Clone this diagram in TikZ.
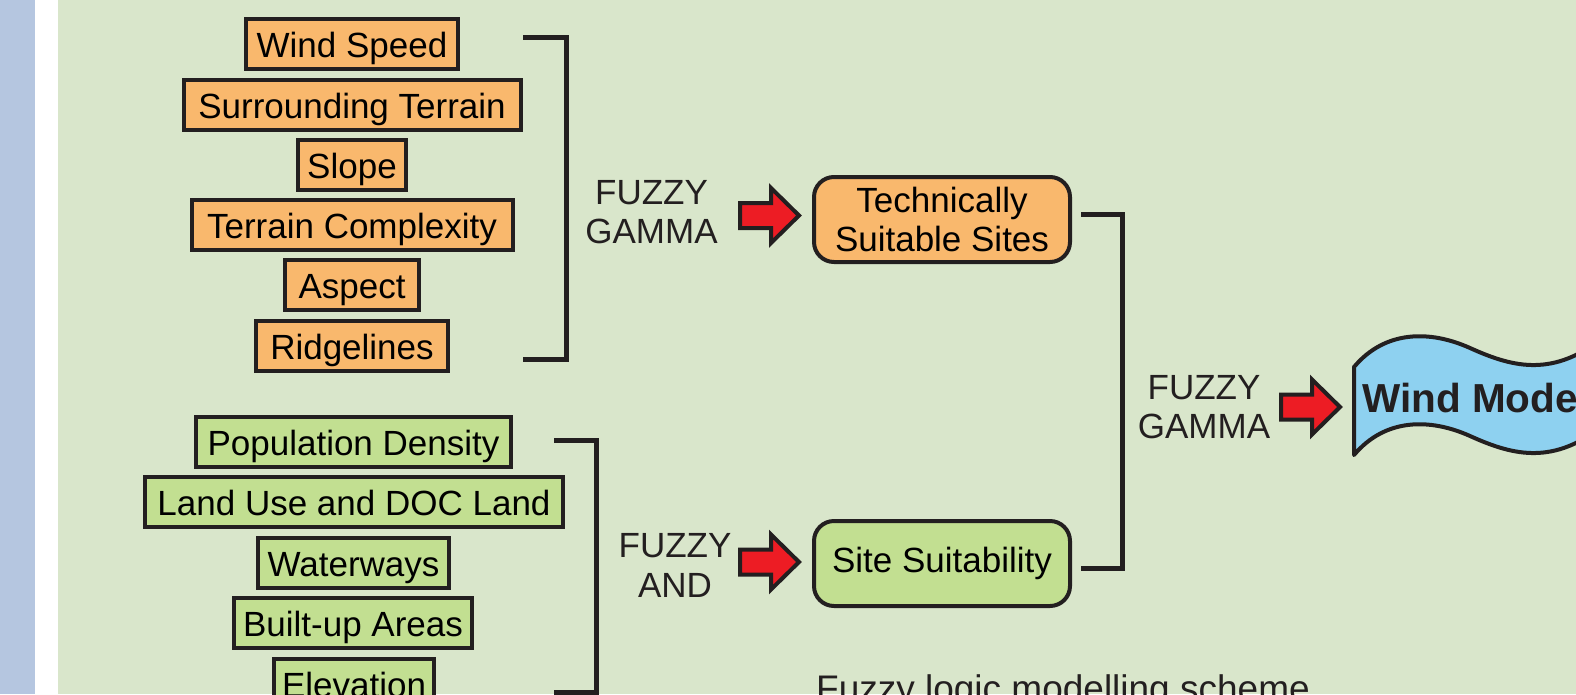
\documentclass[tikz,border=0pt]{standalone}
\usepackage{fontspec}
\setmainfont{Liberation Sans}
\definecolor{stripblue}{HTML}{B5C6E0}
\definecolor{panel}{HTML}{D9E6CB}
\definecolor{techfill}{HTML}{F9B86D}
\definecolor{sitefill}{HTML}{C2DF91}
\definecolor{alert}{HTML}{ED1C24}
\definecolor{sky}{HTML}{8ED1F0}
\definecolor{ink}{HTML}{231F20}
\tikzset{
  txt/.style={font=\fontsize{35}{39.5}\selectfont},
  factor/.style={txt, draw=ink, line width=4pt, inner xsep=0pt, inner ysep=0pt,
    minimum height=50pt, text height=27pt, text depth=0pt},
  techfactor/.style={factor, fill=techfill},
  sitefactor/.style={factor, fill=sitefill},
  result/.style={txt, draw=ink, line width=4pt, rounded corners=20pt,
    minimum width=256pt, minimum height=85pt, align=center, inner sep=0pt},
  op/.style={txt, align=center, inner sep=0pt, text=ink},
  bracket/.style={draw=ink, line width=5pt, line join=miter},
  blockarrow/.pic={
    \draw[fill=alert, draw=ink, line width=4pt, line join=miter]
      (-59,-12.5) -- (-28,-12.5) -- (-28,-27.5) -- (0,0) -- (-28,27.5)
      -- (-28,12.5) -- (-59,12.5) -- cycle;}
}
\begin{document}
\begin{tikzpicture}[x=1pt,y=-1pt]
\useasboundingbox (0,0) rectangle (1576,694);
% page background
\fill[stripblue] (0,0) rectangle (35,694);
\fill[white] (35,0) rectangle (58,694);
\fill[panel] (58,0) rectangle (1576,694);
\clip (0,0) rectangle (1576,694);

% technical factors
\node[techfactor, minimum width=212pt] (ws)  at (352,44.2)  {Wind Speed};
\node[techfactor, minimum width=337pt] (st)  at (352,104.5) {Surrounding Terrain};
\node[techfactor, minimum width=108pt] (sl)  at (352,164.8) {Slope};
\node[techfactor, minimum width=321pt] (tc)  at (352,225.1) {Terrain Complexity};
\node[techfactor, minimum width=134pt] (asp) at (352,285.4) {Aspect};
\node[techfactor, minimum width=192pt] (rl)  at (352,345.7) {Ridgelines};

% site factors
\node[sitefactor, minimum width=315pt] (pd) at (353.5,441.5) {Population Density};
\node[sitefactor, minimum width=418pt] (lu) at (354,502)     {Land Use and DOC Land};
\node[sitefactor, minimum width=191pt] (ww) at (353.5,562.5) {Waterways};
\node[sitefactor, minimum width=238pt] (bu) at (353,623)     {Built-up Areas};
\node[sitefactor, minimum width=160pt] (el) at (354,683.5)   {Elevation};

% bracket coordinates
\coordinate (t1) at (523,37.5);  \coordinate (t2) at (566,37.5);
\coordinate (t3) at (566,359.5); \coordinate (t4) at (523,359.5);
\coordinate (s1) at (554,440);   \coordinate (s2) at (596.5,440);
\coordinate (s3) at (596.5,692); \coordinate (s4) at (554,692);

\draw[bracket] (t1) -- (t2) -- (t3) -- (t4);
\draw[bracket] (s1) -- (s2) -- (s3) -- (s4);

% operators
\node[op] (opgamma) at (651.5,212.2) {FUZZY\\GAMMA};
\node[op] (opand)   at (675,565.5)   {FUZZY\\AND};

% intermediate results
\node[result, fill=techfill] (tech) at (942,219.5) {Technically\\Suitable Sites};
\node[result, fill=sitefill] (site) at (942,563.5) {Site Suitability};

\pic at ([xshift=-13pt,yshift=4pt]tech.west) {blockarrow};
\pic at ([xshift=-13pt,yshift=1.5pt]site.west) {blockarrow};

% second bracket
\coordinate (r1) at (1081,214); \coordinate (r2) at (1122.5,214);
\coordinate (r3) at (1122.5,568); \coordinate (r4) at (1081,568);
\draw[bracket] (r1) -- (r2) -- (r3) -- (r4);

\node[op] (opgamma2) at (1204,407.2) {FUZZY\\GAMMA};

% wind model banner
\draw[fill=sky, draw=ink, line width=4pt, line join=round]
  (1354,367) .. controls (1385,330) and (1430,330) .. (1470,348)
  .. controls (1510,366) and (1550,378) .. (1600,340)
  -- (1600,428)
  .. controls (1550,466) and (1510,454) .. (1470,436)
  .. controls (1430,418) and (1385,418) .. (1354,455) -- cycle;
\coordinate (model) at (1354,407);
\node[anchor=base west, inner sep=0pt, text=ink,
  font=\fontsize{40.5}{44}\selectfont\bfseries] (modeltext) at (1362,412) {Wind Model};
\pic at ([xshift=-14pt]model) {blockarrow};

% caption
\node[anchor=base west, inner sep=0pt, text=ink, font=\fontsize{37}{42}\selectfont]
  (caption) at (816,701.5) {Fuzzy logic modelling scheme};
\end{tikzpicture}
\end{document}
